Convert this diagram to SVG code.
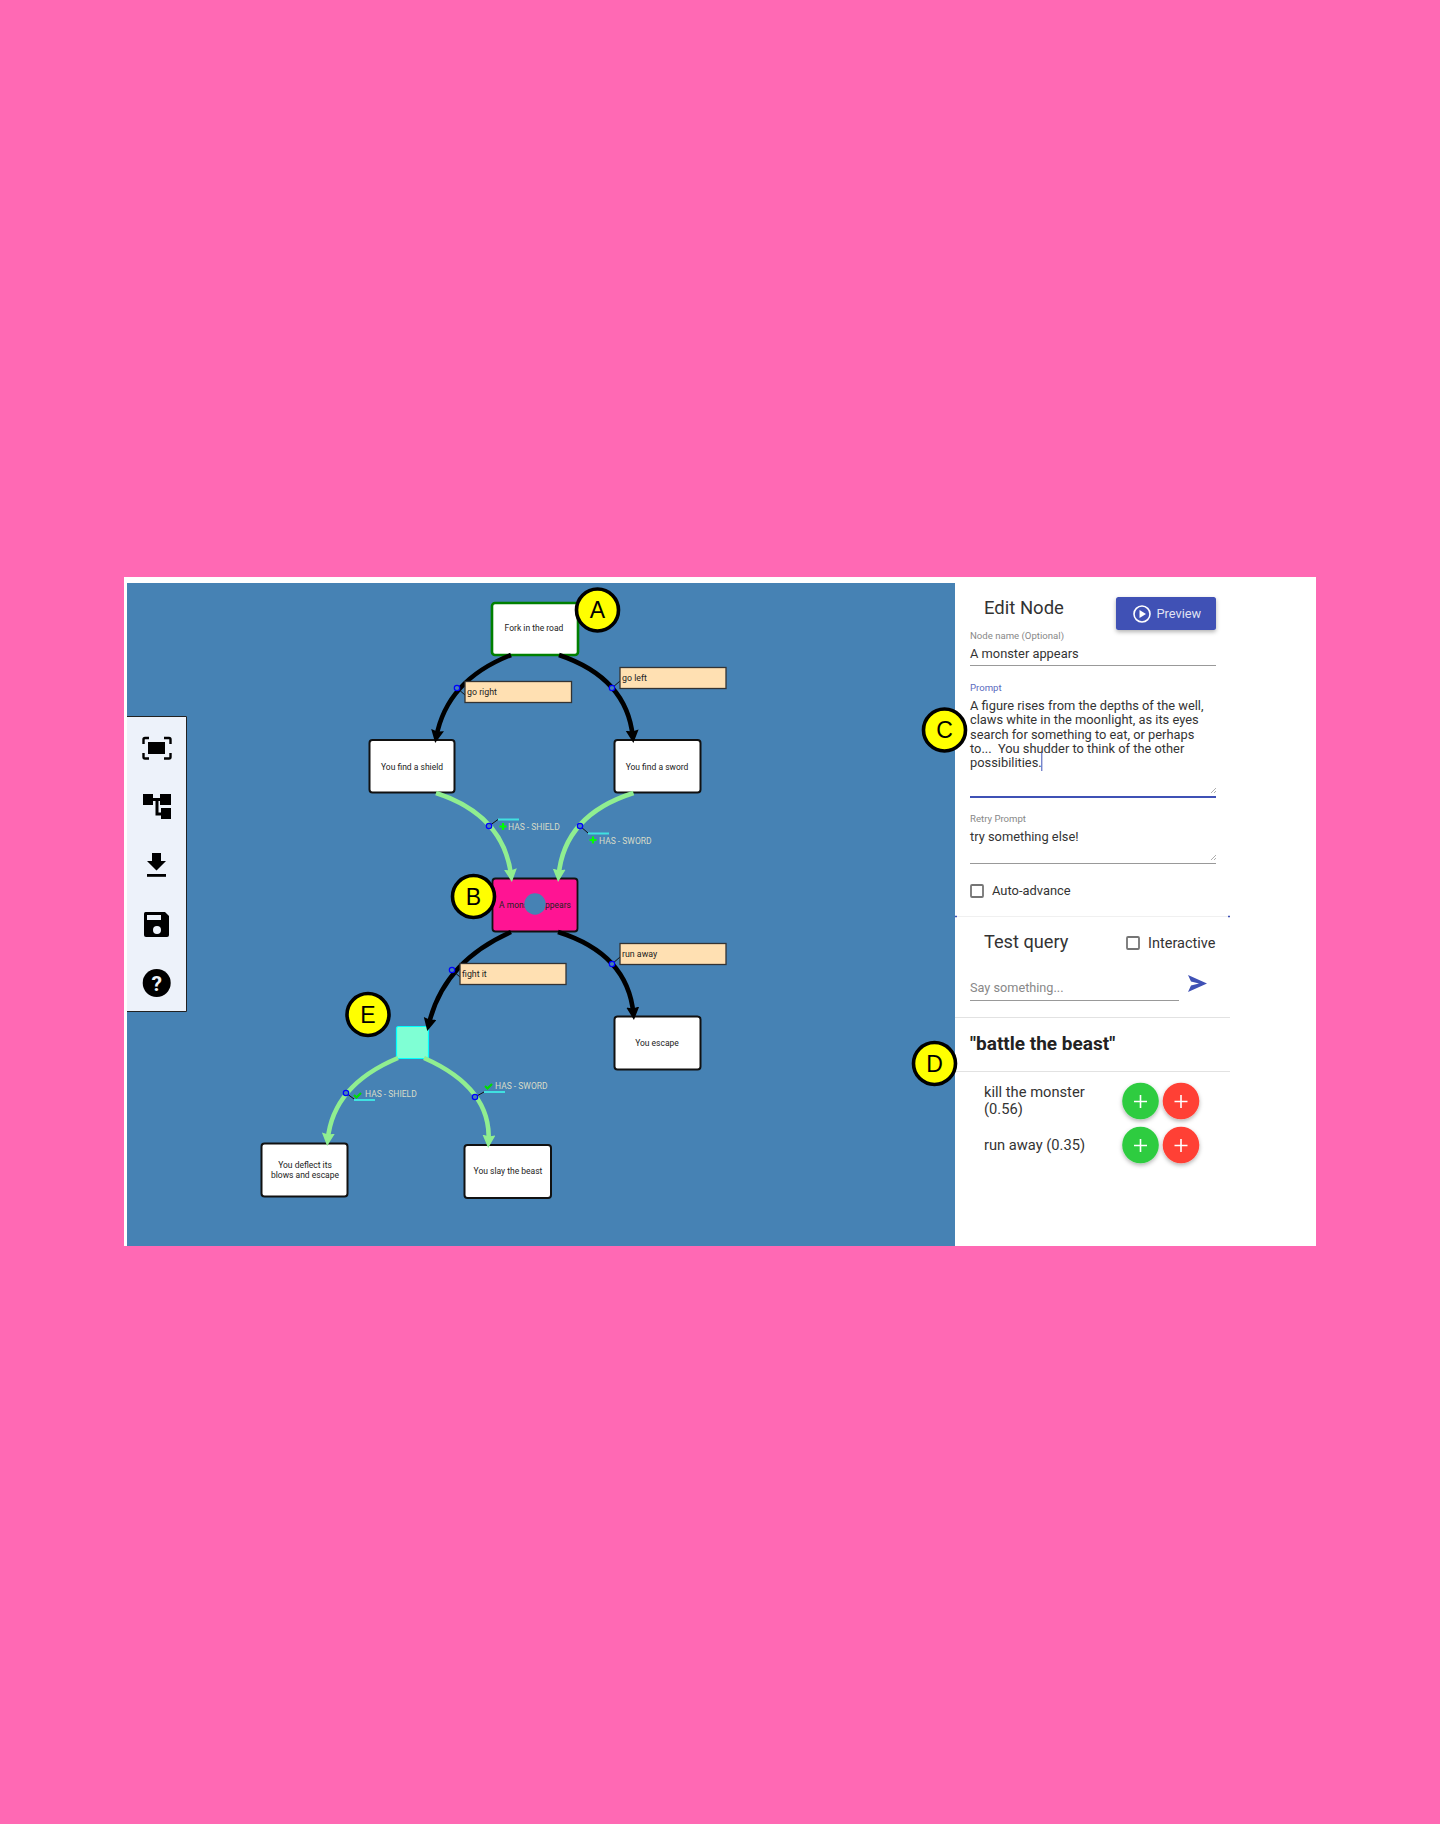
<svg xmlns="http://www.w3.org/2000/svg" width="1440" height="1824" viewBox="0 0 1440 1824">
<style>
text{font-family:Roboto,"Liberation Sans",sans-serif}
.node{fill:#fff;stroke:#111;stroke-width:2}
.nt{font-size:8.5px;fill:#222;text-anchor:middle}
.lbl{fill:#ffe0b2;stroke:#333;stroke-width:1.3}
.lt{font-size:8.8px;fill:#222}
.blk{fill:none;stroke:#000;stroke-width:4.6}
.grn{fill:none;stroke:#90ee90;stroke-width:4.6}
.lead{stroke:#111;stroke-width:1;fill:none}
.dot{fill:#4682b4;stroke:#00f;stroke-width:1.2}
.cy{stroke:#40e0e0;stroke-width:2}
.ct{font-size:8.5px;fill:#d8dcc8}
.call{fill:#ff0;stroke:#000;stroke-width:3.6}
.ctxt{font-family:"Liberation Sans",sans-serif;font-size:23px;fill:#000;text-anchor:middle}
.small{font-size:9.6px;fill:#888}
.body{font-size:12.85px;fill:#333}
.ul{stroke:#999;stroke-width:1.2}
.hr{stroke:#e2e2e2;stroke-width:1}
.cb{fill:#fff;stroke:#757575;stroke-width:1.8}
.plus{stroke:#fff;stroke-width:1.6}
</style>
<defs>
<marker id="ab" markerUnits="userSpaceOnUse" markerWidth="16" markerHeight="16" refX="7" refY="6.500" orient="auto"><path d="M0 0L13 6.500L0 13L1.500 6.500z" fill="#000"/></marker>
<marker id="ag" markerUnits="userSpaceOnUse" markerWidth="16" markerHeight="16" refX="7" refY="6.500" orient="auto"><path d="M0 0L13 6.500L0 13L1.500 6.500z" fill="#90ee90"/></marker>
<filter id="sh" x="-30%" y="-30%" width="160%" height="170%"><feDropShadow dx="0" dy="2" stdDeviation="2" flood-color="#000" flood-opacity=".3"/></filter>
</defs>
<rect width="1440" height="1824" fill="#ff69b4"/>
<rect x="124" y="577" width="1192" height="669" fill="#fff"/>
<rect x="127" y="583" width="828" height="663" fill="#4682b4"/>
<g id="node-fork"><rect x="492" y="603" width="86" height="52" rx="3" fill="#fff" stroke="#008000" stroke-width="2.600"/><text class="nt" x="534" y="631">Fork in the road</text></g>
<g id="node-shield"><rect class="node" x="369.500" y="740" width="85" height="52.500" rx="3"/><text class="nt" x="412" y="769.500">You find a shield</text></g>
<g id="node-sword"><rect class="node" x="614.500" y="740" width="86" height="52.500" rx="3"/><text class="nt" x="657" y="769.500">You find a sword</text></g>
<g id="node-monster"><rect x="492.500" y="878.500" width="85" height="53" rx="3" fill="#ff1493" stroke="#111" stroke-width="1.800"/><text class="nt" x="535" y="907.500">A monster appears</text><circle cx="535" cy="904" r="10.700" fill="#4682b4"/></g>
<g id="node-escape"><rect class="node" x="614.500" y="1016.500" width="86" height="53" rx="3"/><text class="nt" x="657" y="1045.500">You escape</text></g>
<g id="node-decision"><rect x="396.500" y="1026.500" width="32" height="32" rx="2" fill="#7fffd4" stroke="#0ff" stroke-width="1.200"/></g>
<g id="node-deflect"><rect class="node" x="261.500" y="1143.500" width="86" height="53" rx="3"/><text class="nt" x="305" y="1167.500">You deflect its</text><text class="nt" x="305" y="1177.500">blows and escape</text></g>
<g id="node-slay"><rect class="node" x="464.500" y="1145" width="86.500" height="53" rx="3"/><text class="nt" x="508" y="1173.500">You slay the beast</text></g>
<g id="connectors">
<path class="blk" marker-end="url(#ab)" d="M511 655Q447 680 436.300 737"/>
<path class="blk" marker-end="url(#ab)" d="M559 655Q627 678 632.800 737"/>
<path class="grn" marker-end="url(#ag)" d="M436 793Q504 815 511.200 876"/>
<path class="grn" marker-end="url(#ag)" d="M633.500 793Q564 815 558.600 876"/>
<path class="blk" marker-end="url(#ab)" d="M511 932Q443 962 428.600 1025.200"/>
<path class="blk" marker-end="url(#ab)" d="M558 932Q628 954 633.400 1014"/>
<path class="grn" marker-end="url(#ag)" d="M398 1058Q333 1085 327.700 1140"/>
<path class="grn" marker-end="url(#ag)" d="M424 1058Q492 1088 488.500 1142"/>
</g>
<g id="edge-labels">
<g id="label-go-right"><path class="lead" d="M457 688L465 695"/><circle class="dot" cx="457" cy="688" r="2.700"/><rect class="lbl" x="465" y="681.500" width="106.500" height="21"/><text class="lt" x="467" y="695">go right</text></g>
<g id="label-go-left"><path class="lead" d="M612 688L620 681"/><circle class="dot" cx="612" cy="688" r="2.700"/><rect class="lbl" x="620" y="667.500" width="106" height="21"/><text class="lt" x="622" y="681">go left</text></g>
<g id="label-fight"><path class="lead" d="M452 970L460 977"/><circle class="dot" cx="452" cy="970" r="2.700"/><rect class="lbl" x="460" y="963.500" width="106" height="21"/><text class="lt" x="462" y="977">fight it</text></g>
<g id="label-run"><path class="lead" d="M612 964L620 957"/><circle class="dot" cx="612" cy="964" r="2.700"/><rect class="lbl" x="620" y="943.500" width="106" height="21"/><text class="lt" x="622" y="957">run away</text></g>
<g id="cond-shield-1"><path class="lead" d="M489 826L498 819.500"/><circle class="dot" cx="489" cy="826" r="2.700"/><path class="cy" d="M498 819.500H519"/><path d="M503 823V830M499.500 826.500H506.500" stroke="#0f0" stroke-width="2.200"/><text class="ct" x="508" y="829.500">HAS - SHIELD</text></g>
<g id="cond-sword-1"><path class="lead" d="M580 826L588 833"/><circle class="dot" cx="580" cy="826" r="2.700"/><path class="cy" d="M588 833.500H609"/><path d="M593 836.500V843.500M589.500 840H596.500" stroke="#0f0" stroke-width="2.200"/><text class="ct" x="599" y="843.500">HAS - SWORD</text></g>
<g id="cond-shield-2"><path class="lead" d="M346 1093L354 1099"/><circle class="dot" cx="346" cy="1093" r="2.700"/><path class="cy" d="M354 1100H375"/><path d="M354 1095L356.500 1097.500L361 1093" fill="none" stroke="#0d0" stroke-width="2.200"/><text class="ct" x="365" y="1097">HAS - SHIELD</text></g>
<g id="cond-sword-2"><path class="lead" d="M475 1097L484 1092"/><circle class="dot" cx="475" cy="1097" r="2.700"/><path class="cy" d="M484 1092H505"/><path d="M485 1086L487.500 1088.500L492 1084" fill="none" stroke="#0d0" stroke-width="2.200"/><text class="ct" x="495" y="1089">HAS - SWORD</text></g>
</g>
<g id="toolbar">
<rect x="127" y="716" width="59.500" height="295.500" fill="#edf2fa"/>
<path d="M127 716.500H186.500V1011.500H127" fill="none" stroke="#222" stroke-width="1"/>
<g id="tool-fit"><rect x="148" y="742" width="17" height="12"/><path d="M143.500 744V739.500Q143.500 738 145 738H149M170.500 744V739.500Q170.500 738 169 738H164M143.500 753V757Q143.500 758.500 145 758.500H149M170.500 753V757Q170.500 758.500 169 758.500H164" fill="none" stroke="#000" stroke-width="2.400"/></g>
<g id="tool-tree"><rect x="143" y="794" width="10" height="11"/><rect x="160" y="794" width="11" height="11"/><rect x="161" y="808" width="10" height="11"/><path d="M153 799.500H160M157 799.500V814H161" fill="none" stroke="#000" stroke-width="3"/></g>
<g id="tool-download"><path d="M152 853H161V861H166L156.500 870.500L147 861H152z"/><rect x="147" y="874" width="19" height="2.800"/></g>
<g id="tool-save"><path d="M145.500 912H165L169 916V935Q169 937 167 937H146Q144 937 144 935V913.500Q144 912 145.500 912z"/><circle cx="157" cy="930" r="4" fill="#edf2fa"/><rect x="147" y="915" width="14" height="5" fill="#edf2fa"/></g>
<g id="tool-help"><circle cx="156.700" cy="983" r="14"/><text x="156.700" y="990.500" font-size="21" font-weight="700" fill="#edf2fa" text-anchor="middle">?</text></g>
</g>
<g id="panel">
<text x="984" y="613.500" font-size="18.500" fill="#333">Edit Node</text>
<g id="preview-btn"><rect x="1116" y="597" width="100" height="33" rx="2.500" fill="#3f51b5" filter="url(#sh)"/><circle cx="1142" cy="614" r="8" fill="none" stroke="#fff" stroke-width="1.600"/><path d="M1139.500 610L1146 614L1139.500 618z" fill="#fff"/><text x="1156.500" y="618" font-size="12.800" fill="#fff" fill-opacity=".85">Preview</text></g>
<text class="small" x="970" y="638.500">Node name (Optional)</text>
<text class="body" x="970" y="658">A monster appears</text>
<path class="ul" d="M970 665.500H1216"/>
<text class="small" x="970" y="691" style="fill:#5c6bc0">Prompt</text>
<text class="body" x="970" y="710">A figure rises from the depths of the well,</text>
<text class="body" x="970" y="724.300">claws white in the moonlight, as its eyes</text>
<text class="body" x="970" y="738.500">search for something to eat, or perhaps</text>
<text class="body" x="970" y="752.700" xml:space="preserve">to...  You shudder to think of the other</text>
<text class="body" x="970" y="767">possibilities.</text>
<path d="M1041.800 753V771" stroke="#3f51b5" stroke-width="1"/>
<path d="M1211 793L1216 788M1214 793L1216 791" stroke="#999" stroke-width=".8"/>
<path d="M970 797H1216" stroke="#3f51b5" stroke-width="2"/>
<text class="small" x="970" y="822">Retry Prompt</text>
<text class="body" x="970" y="841">try something else!</text>
<path d="M1211 860L1216 855M1214 860L1216 858" stroke="#999" stroke-width=".8"/>
<path class="ul" d="M970 863.500H1216"/>
<rect class="cb" x="971" y="885" width="12" height="12" rx="1"/>
<text x="992" y="895" font-size="12.900" fill="#333">Auto-advance</text>
<path class="hr" d="M955 916.500H1230" style="stroke:#f0f0f0"/>
<path d="M955 916.500h2M1228 916.500h2" stroke="#3f51b5" stroke-width="1.500"/>
<text x="984" y="948" font-size="18.200" fill="#333">Test query</text>
<rect class="cb" x="1127" y="937" width="12" height="12" rx="1"/>
<text x="1148" y="947.500" font-size="14.500" fill="#333">Interactive</text>
<text x="970" y="992" font-size="12.700" fill="#888">Say something...</text>
<path class="ul" d="M970 1000.500H1179"/>
<path d="M1188 975L1207 983.500L1188 992L1191 985.500L1199 983.500L1191 981.500z" fill="#3f51b5"/>
<path class="hr" d="M955 1017.500H1230"/>
<text x="970" y="1050" font-size="19" font-weight="700" fill="#222">"battle the beast"</text>
<path class="hr" d="M955 1071.500H1230"/>
<text x="984" y="1097" font-size="14.700" fill="#333">kill the monster</text>
<text x="984" y="1114" font-size="14.700" fill="#333">(0.56)</text>
<text x="984" y="1150" font-size="14.700" fill="#333">run away (0.35)</text>
<g id="btn-add-1"><circle cx="1140.500" cy="1101" r="18.300" fill="#2ecc40" filter="url(#sh)"/><path class="plus" d="M1134 1101.500H1147M1140.500 1095V1108"/></g>
<g id="btn-rem-1"><circle cx="1181" cy="1101" r="18.300" fill="#ff4136" filter="url(#sh)"/><path class="plus" d="M1174.500 1101.500H1187.500M1181 1095V1108"/></g>
<g id="btn-add-2"><circle cx="1140.500" cy="1145" r="18.300" fill="#2ecc40" filter="url(#sh)"/><path class="plus" d="M1134 1145.500H1147M1140.500 1139V1152"/></g>
<g id="btn-rem-2"><circle cx="1181" cy="1145" r="18.300" fill="#ff4136" filter="url(#sh)"/><path class="plus" d="M1174.500 1145.500H1187.500M1181 1139V1152"/></g>
</g>
<g id="callouts">
<g id="callout-a"><circle class="call" cx="597.500" cy="610" r="21"/><text class="ctxt" x="597.500" y="618">A</text></g>
<g id="callout-b"><circle class="call" cx="473.500" cy="896.500" r="21"/><text class="ctxt" x="473.500" y="904.500">B</text></g>
<g id="callout-c"><circle class="call" cx="944.500" cy="730" r="21"/><text class="ctxt" x="944.500" y="738">C</text></g>
<g id="callout-d"><circle class="call" cx="934.500" cy="1063.500" r="21"/><text class="ctxt" x="934.500" y="1071.500">D</text></g>
<g id="callout-e"><circle class="call" cx="368" cy="1014.500" r="21"/><text class="ctxt" x="368" y="1022.500">E</text></g>
</g>
</svg>
